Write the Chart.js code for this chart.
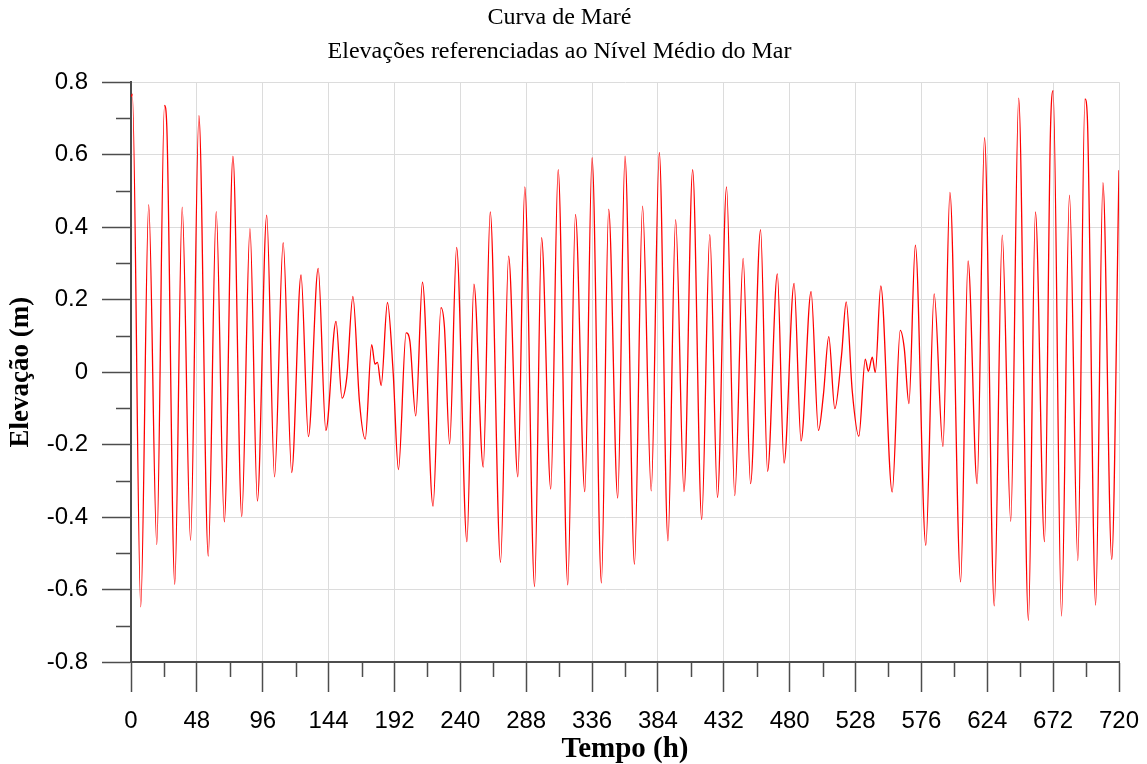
<!DOCTYPE html>
<html>
<head>
<meta charset="utf-8">
<title>Curva de Maré</title>
<script src="https://cdn.jsdelivr.net/npm/chart.js@4/dist/chart.umd.min.js"></script>
<style>
    html, body { margin: 0; padding: 0; background: #ffffff; }
    #wrap { width: 1147px; height: 764px; }
</style>
</head>
<body>
<div id="wrap"><canvas id="tide"></canvas></div>
<script>
// Tide record: highs, lows and shoulders of the curve (hours, metres)
const hours = [
    0, 1, 7.1, 12.9, 18.8, 24.4, 26.1, 31.9, 37.3, 43.4,
    49.5, 56.3, 62.1, 68.0, 74.3, 80.7, 86.7, 92.1, 98.9, 104.6,
    110.9, 117.1, 123.9, 129.3, 136.4, 142.0, 149.4, 153.8, 157.3, 161.7,
    166.5, 170.7, 175.4, 177.8, 179.6, 182.3, 186.9, 191.0, 194.9, 200.5,
    203.2, 207.5, 212.4, 220.1, 225.9, 228.4, 232.2, 237.3, 244.8, 249.9,
    256.7, 261.8, 269.3, 275.2, 281.9, 287.0, 294.1, 299.2, 305.9, 311.3,
    318.3, 323.9, 330.7, 336.0, 342.8, 348.1, 354.7, 360.0, 366.9, 372.8,
    379.1, 385.0, 391.3, 396.9, 403.0, 409.3, 415.9, 421.8, 427.4, 434.0,
    440.0, 446.1, 451.5, 458.8, 463.9, 471.0, 475.9, 483.2, 488.3, 495.6,
    501.0, 504.6, 508.5, 512.9, 517.8, 521.2, 525.6, 530.4, 535.1, 537.3,
    540.2, 542.4, 546.4, 554.7, 560.6, 563.5, 566.9, 571.6, 579.2, 585.3,
    591.7, 596.8, 604.6, 610.0, 616.6, 622.0, 629.1, 634.9, 641.1, 646.9,
    654.0, 659.1, 665.7, 670.0, 672.0, 678.1, 683.9, 690.0, 695.2, 696.9,
    703.0, 708.3, 714.7, 720
];
const elevation = [
    0.760, 0.767, -0.648, 0.462, -0.476, 0.736, 0.677, -0.586, 0.455, -0.464,
    0.708, -0.508, 0.443, -0.413, 0.596, -0.399, 0.396, -0.356, 0.433, -0.289,
    0.357, -0.277, 0.268, -0.178, 0.286, -0.161, 0.140, -0.072, -0.013, 0.209,
    -0.082, -0.185, 0.076, 0.022, 0.027, -0.037, 0.192, 0.002, -0.269, 0.108,
    0.086, -0.121, 0.248, -0.370, 0.178, 0.125, -0.198, 0.344, -0.468, 0.243,
    -0.262, 0.442, -0.525, 0.320, -0.289, 0.511, -0.592, 0.371, -0.323, 0.559,
    -0.587, 0.435, -0.330, 0.592, -0.582, 0.450, -0.348, 0.596, -0.530, 0.458,
    -0.328, 0.606, -0.466, 0.421, -0.330, 0.559, -0.407, 0.379, -0.346, 0.511,
    -0.341, 0.314, -0.308, 0.393, -0.274, 0.271, -0.251, 0.245, -0.190, 0.222,
    -0.161, -0.062, 0.098, -0.101, 0.046, 0.194, -0.052, -0.177, 0.036, 0.002,
    0.041, -0.001, 0.238, -0.331, 0.115, 0.066, -0.087, 0.350, -0.478, 0.216,
    -0.205, 0.496, -0.579, 0.307, -0.308, 0.647, -0.645, 0.378, -0.412, 0.756,
    -0.685, 0.442, -0.468, 0.657, 0.777, -0.673, 0.488, -0.520, 0.754, 0.706,
    -0.643, 0.523, -0.517, 0.557
];

// Axis ticks
const xTicks = [0, 48, 96, 144, 192, 240, 288, 336, 384, 432, 480, 528, 576, 624, 672, 720];
const xMinorTicks = [24, 72, 120, 168, 216, 264, 312, 360, 408, 456, 504, 552, 600, 648, 696];
const yTicks = [-0.8, -0.6, -0.4, -0.2, 0, 0.2, 0.4, 0.6, 0.8];
const yMinorTicks = [-0.7, -0.5, -0.3, -0.1, 0.1, 0.3, 0.5, 0.7];

const titleLines = ['Curva de Maré', 'Elevações referenciadas ao Nível Médio do Mar'];

const AXIS_COLOR = '#4d4d4d';
const GRID_COLOR = '#dcdcdc';
const SERIF = '"Liberation Serif", "Times New Roman", serif';
const SANS = '"Liberation Sans", Arial, sans-serif';

// Short tick marks between the labelled ones
const minorTicks = {
    id: 'minorTicks',
    afterDraw(chart) {
        const ctx = chart.ctx;
        const xs = chart.scales.x;
        const ys = chart.scales.y;
        ctx.save();
        ctx.strokeStyle = AXIS_COLOR;
        ctx.lineWidth = 1.5;
        ctx.beginPath();
        yMinorTicks.forEach(v => {
            const py = Math.round(ys.getPixelForValue(v)) + 0.5;
            ctx.moveTo(ys.right - 15, py);
            ctx.lineTo(ys.right, py);
        });
        xMinorTicks.forEach(v => {
            const px = Math.round(xs.getPixelForValue(v)) + 0.5;
            ctx.moveTo(px, xs.top);
            ctx.lineTo(px, xs.top + 15);
        });
        ctx.stroke();
        ctx.restore();
    }
};

function buildPoints() {
    return hours.map((h, i) => ({ x: h, y: elevation[i] }));
}

function createChart() {
    const ctx = document.getElementById('tide').getContext('2d');
    new Chart(ctx, {
        type: 'line',
        data: {
            datasets: [{
                data: buildPoints(),
                borderColor: '#ff0000',
                borderWidth: 1.3,
                pointRadius: 0,
                fill: false,
                cubicInterpolationMode: 'monotone'
            }]
        },
        options: {
            responsive: true,
            maintainAspectRatio: false,
            animation: false,
            layout: { padding: { top: 0, right: 28, bottom: 0, left: 0 } },
            plugins: {
                legend: { display: false },
                tooltip: { enabled: false },
                title: {
                    display: true,
                    text: titleLines,
                    color: '#000000',
                    font: { family: SERIF, size: 24, weight: 'normal', lineHeight: 1.4 },
                    padding: { top: 1, bottom: 14 }
                }
            },
            scales: {
                x: {
                    type: 'linear',
                    min: 0,
                    max: 720,
                    afterBuildTicks(scale) {
                        scale.ticks = xTicks.map(v => ({ value: v }));
                    },
                    afterFit(scale) {
                        // keep the plot edge fixed; the end labels fit in the margin
                        scale.height = 102;
                        scale.paddingLeft = 0;
                        scale.paddingRight = 0;
                    },
                    ticks: {
                        color: '#000000',
                        font: { family: SANS, size: 24 },
                        padding: 15,
                        maxRotation: 0,
                        autoSkip: false
                    },
                    grid: {
                        color: GRID_COLOR,
                        lineWidth: 1,
                        tickColor: AXIS_COLOR,
                        tickLength: 30,
                        tickWidth: 1.5
                    },
                    border: { color: AXIS_COLOR, width: 2 },
                    title: {
                        display: true,
                        text: 'Tempo (h)',
                        color: '#000000',
                        font: { family: SERIF, size: 29, weight: 'bold', lineHeight: 1.0 },
                        padding: { top: 0, bottom: 0 }
                    }
                },
                y: {
                    min: -0.8,
                    max: 0.8,
                    afterBuildTicks(scale) {
                        scale.ticks = yTicks.map(v => ({ value: v }));
                    },
                    afterFit(scale) {
                        scale.width = 131;
                    },
                    ticks: {
                        color: '#000000',
                        font: { family: SANS, size: 24 },
                        padding: 14,
                        callback: v => String(Math.round(v * 10) / 10)
                    },
                    grid: {
                        color: GRID_COLOR,
                        lineWidth: 1,
                        tickColor: AXIS_COLOR,
                        tickLength: 29,
                        tickWidth: 1.5
                    },
                    border: { color: AXIS_COLOR, width: 2 },
                    title: {
                        display: true,
                        text: 'Elevação (m)',
                        color: '#000000',
                        font: { family: SERIF, size: 27, weight: 'bold', lineHeight: 1.0 },
                        padding: { top: 8, bottom: 0 }
                    }
                }
            }
        },
        plugins: [minorTicks]
    });
}

createChart();
</script>
</body>
</html>
